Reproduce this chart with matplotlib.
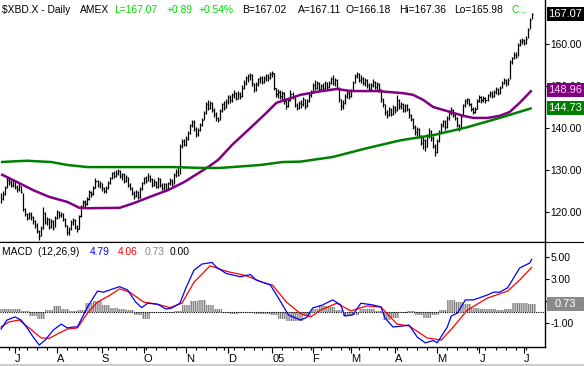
import numpy as np
import pandas as pd
import matplotlib
matplotlib.use('Agg')
import matplotlib.pyplot as plt
from matplotlib.patches import Rectangle

plt.rcParams['font.family'] = ['Liberation Sans', 'DejaVu Sans']
plt.rcParams['hatch.linewidth'] = 0.9

# trading days shown (Jun 22 2004 .. Jul 8 2005)
holidays = ['2004-07-05', '2004-09-06', '2004-11-25', '2004-12-24', '2005-01-17',
            '2005-02-21', '2005-03-25', '2005-05-30', '2005-07-04']

# daily bars
closes = [
    123.0, 124.2, 125.8, 127.6, 127.2, 126.4, 127.3, 126.0, 125.4, 126.2,
    124.8, 120.8, 119.6, 118.6, 119.5, 118.8, 117.8, 117.0, 115.5, 114.2,
    116.2, 119.8, 117.6, 118.3, 116.5, 117.8, 116.2, 118.6, 120.0, 119.2,
    119.6, 118.4, 116.8, 115.2, 116.0, 117.6, 118.2, 116.5, 116.0, 119.0,
    121.2, 122.4, 121.8, 123.0, 124.8, 124.2, 125.8, 127.4, 126.4, 126.8,
    125.6, 124.9, 125.8, 126.9, 128.0, 129.2, 128.6, 129.4, 129.8, 128.5,
    129.0, 127.4, 128.3, 126.5, 125.8, 124.6, 123.8, 124.8, 123.6, 125.5,
    126.8, 128.0, 127.4, 128.6, 127.8, 126.5, 127.2, 126.0, 127.8, 126.5,
    125.6, 126.6, 125.5, 126.8, 127.4, 126.6, 128.8, 129.6, 128.9, 135.8,
    136.8, 136.2, 137.5, 138.8, 140.6, 141.5, 139.8, 138.6, 139.6, 140.8,
    142.0, 143.5, 145.8, 144.8, 146.0, 144.3, 143.4, 142.3, 141.8, 144.0,
    145.6, 144.8, 146.2, 147.4, 146.6, 147.8, 148.4, 147.0, 148.2, 147.6,
    149.6, 150.8, 151.8, 152.3, 152.6, 150.6, 149.2, 150.4, 151.6, 152.0,
    150.9, 151.8, 152.4, 151.8, 152.8, 153.0, 149.5, 148.0, 148.6, 147.6,
    148.4, 146.4, 145.2, 146.6, 148.2, 147.4, 145.5, 144.8, 146.0, 145.6,
    146.8, 145.2, 146.4, 147.8, 148.4, 150.2, 149.6, 150.8, 149.4, 150.0,
    149.6, 150.6, 149.8, 150.8, 151.6, 150.8, 151.4, 149.6, 146.8, 145.2,
    146.0, 147.6, 148.4, 147.6, 148.8, 150.8, 152.4, 152.8, 151.4, 152.0,
    150.6, 151.4, 150.2, 149.4, 150.2, 151.0, 149.8, 150.4, 149.2, 146.8,
    145.6, 143.8, 143.2, 144.6, 143.4, 145.0, 144.2, 146.6, 145.2, 145.8,
    144.2, 145.4, 144.6, 143.0, 142.2, 140.2, 139.0, 139.8, 138.2, 136.4,
    137.2, 135.4, 138.0, 139.4, 137.6, 135.8, 134.2, 136.8, 139.0, 140.6,
    141.6, 140.2, 142.4, 143.6, 144.4, 143.2, 142.4, 140.8, 139.8, 142.6,
    145.4, 146.4, 146.8, 145.8, 144.6, 143.8, 144.6, 146.4, 147.4, 146.6,
    147.2, 146.6, 147.8, 148.4, 147.6, 148.6, 149.2, 148.4, 149.6, 150.8,
    151.4, 150.6, 151.4, 155.6, 156.6, 157.4, 157.0, 159.8, 160.6, 161.0,
    160.2, 161.2, 163.4, 165.6, 167.07,
]
highs = [
    124.5, 125.0, 126.3, 128.5, 128.3, 127.6, 127.8, 127.5, 126.4, 126.8,
    126.3, 124.6, 121.0, 119.8, 120.0, 120.1, 119.0, 118.2, 117.3, 115.8,
    116.6, 121.2, 120.1, 118.8, 118.6, 118.3, 118.0, 119.0, 120.5, 120.3,
    120.0, 119.8, 118.6, 117.0, 116.4, 118.0, 118.6, 118.4, 117.0, 119.3,
    121.7, 122.8, 122.8, 123.5, 125.2, 125.0, 126.3, 128.0, 127.6, 127.3,
    127.0, 126.0, 126.2, 127.3, 128.4, 129.6, 129.8, 130.0, 130.3, 129.9,
    129.4, 129.2, 128.8, 128.4, 126.8, 126.0, 125.0, 125.2, 125.0, 126.0,
    127.2, 128.4, 128.5, 129.3, 128.9, 128.0, 127.8, 127.4, 128.3, 128.0,
    126.8, 127.0, 126.8, 127.2, 128.0, 127.8, 129.2, 130.2, 130.7, 136.3,
    137.3, 137.5, 138.0, 139.3, 141.0, 142.0, 141.8, 140.2, 140.0, 141.3,
    142.4, 144.0, 146.3, 146.7, 146.5, 146.2, 144.8, 143.8, 142.6, 144.5,
    146.0, 146.4, 146.8, 147.9, 147.8, 148.3, 149.0, 148.6, 148.8, 148.6,
    150.2, 151.5, 152.4, 152.8, 153.1, 152.8, 150.8, 150.9, 152.0, 152.5,
    152.3, 152.3, 152.9, 152.8, 153.3, 153.5, 153.0, 149.6, 149.3, 149.0,
    148.8, 148.6, 146.8, 147.2, 149.0, 148.6, 147.6, 145.9, 146.4, 146.6,
    147.4, 147.0, 146.9, 148.3, 149.0, 150.8, 151.4, 151.3, 151.0, 150.5,
    150.6, 151.2, 151.0, 151.2, 152.1, 152.6, 151.9, 151.6, 149.7, 147.0,
    146.6, 148.0, 149.0, 148.8, 149.4, 151.3, 152.9, 153.3, 153.0, 152.6,
    152.2, 151.8, 151.6, 150.6, 150.7, 151.6, 151.2, 150.9, 150.6, 149.4,
    147.2, 145.8, 144.2, 145.0, 144.8, 145.5, 145.3, 147.9, 146.8, 146.2,
    146.0, 145.8, 145.6, 144.8, 143.4, 142.3, 140.6, 140.3, 140.0, 138.4,
    137.8, 137.4, 138.5, 140.0, 139.6, 138.0, 136.2, 137.4, 139.5, 141.2,
    142.0, 141.8, 142.8, 144.2, 145.0, 144.6, 143.6, 142.6, 141.0, 143.0,
    145.8, 146.9, 147.2, 147.0, 146.0, 144.9, 145.1, 146.8, 147.9, 147.6,
    147.6, 147.5, 148.2, 148.9, 148.8, 149.0, 149.8, 149.5, 150.0, 151.2,
    152.0, 151.6, 151.9, 156.2, 157.0, 158.0, 158.1, 160.3, 161.2, 161.5,
    161.3, 161.8, 163.9, 166.3, 167.36,
]
lows = [
    122.2, 122.8, 124.0, 125.6, 126.5, 126.0, 125.9, 125.5, 124.8, 124.9,
    124.5, 120.3, 119.0, 118.0, 118.3, 118.1, 117.2, 116.3, 115.0, 113.4,
    114.2, 116.0, 117.1, 116.8, 116.0, 116.3, 115.7, 116.4, 118.4, 118.6,
    118.7, 117.9, 116.5, 114.6, 114.5, 115.7, 116.8, 116.0, 115.2, 116.0,
    118.9, 121.0, 121.2, 121.6, 122.8, 123.5, 124.0, 125.6, 125.9, 125.6,
    125.0, 124.5, 124.6, 125.5, 126.6, 127.8, 128.1, 128.3, 128.9, 128.0,
    127.6, 127.0, 127.1, 126.0, 125.2, 124.0, 123.2, 123.5, 123.0, 123.4,
    125.3, 126.6, 126.8, 127.3, 127.2, 126.0, 126.1, 125.6, 125.8, 126.0,
    125.2, 125.3, 125.0, 125.3, 126.4, 126.2, 126.6, 128.3, 128.5, 129.0,
    135.3, 135.6, 135.8, 137.2, 138.6, 140.2, 139.2, 137.9, 138.2, 139.4,
    140.5, 141.8, 143.4, 144.2, 144.6, 143.8, 142.6, 141.6, 141.4, 141.8,
    143.8, 144.2, 144.7, 145.8, 146.0, 146.3, 147.2, 146.6, 146.8, 147.0,
    147.4, 149.4, 150.3, 151.0, 151.5, 150.0, 148.6, 148.9, 150.1, 150.8,
    150.4, 150.7, 151.3, 151.2, 151.6, 152.1, 149.0, 147.4, 147.1, 147.0,
    146.6, 145.8, 144.6, 145.0, 146.4, 146.8, 145.0, 144.3, 144.5, 144.8,
    145.2, 144.6, 144.9, 146.2, 147.5, 148.3, 149.0, 149.2, 148.8, 148.9,
    148.9, 149.2, 149.3, 149.5, 150.4, 150.2, 150.1, 149.2, 146.2, 144.3,
    144.6, 145.8, 147.2, 147.0, 147.4, 148.8, 150.6, 151.8, 150.9, 150.8,
    150.2, 150.1, 149.6, 148.9, 148.8, 149.8, 149.3, 149.1, 148.6, 146.2,
    145.0, 143.2, 142.4, 142.8, 142.9, 143.2, 143.6, 144.0, 144.6, 144.5,
    143.8, 143.9, 144.0, 142.4, 141.6, 139.8, 138.4, 138.2, 137.6, 135.9,
    135.0, 134.6, 135.4, 137.6, 137.0, 135.2, 133.4, 134.0, 136.6, 138.8,
    140.2, 139.6, 140.0, 142.0, 143.2, 142.6, 141.8, 140.2, 139.4, 140.0,
    142.8, 145.0, 145.6, 145.2, 144.1, 143.4, 143.5, 144.5, 146.1, 146.0,
    146.2, 146.0, 146.5, 147.3, 147.2, 147.4, 148.0, 147.8, 148.2, 149.5,
    150.4, 150.0, 150.3, 151.6, 155.2, 156.4, 156.6, 157.1, 159.6, 160.0,
    159.8, 160.1, 161.4, 163.6, 165.98,
]

# moving averages (bar index, value)
ma_short_bar = [0, 9, 16, 24, 33, 39, 43, 59, 66, 74, 83, 91, 99, 103, 108, 115, 124,
                132, 137, 144, 149, 157, 167, 174, 187, 200, 205, 210, 215, 220, 225,
                230, 235, 242, 248, 253, 258, 264]
ma_short_val = [129.0, 126.9, 125.2, 123.6, 122.4, 121.0, 120.9, 121.0, 122.1, 123.6,
                125.2, 127.1, 129.5, 130.7, 132.4, 136.0, 140.0, 143.6, 146.0, 147.1,
                147.9, 148.6, 149.3, 148.8, 148.8, 148.3, 147.9, 146.7, 145.0, 144.3,
                143.6, 142.9, 142.4, 142.4, 142.9, 143.8, 146.0, 148.96]
ma_long_bar = [0, 8, 13, 25, 33, 43, 86, 99, 109, 115, 129, 140, 149, 165, 182, 199,
               215, 232, 248, 264]
ma_long_val = [131.9, 132.1, 132.2, 131.9, 131.2, 130.7, 130.7, 130.5, 130.5, 130.7,
               131.2, 131.9, 132.0, 133.1, 135.2, 137.1, 138.3, 140.2, 142.4, 144.73]

# MACD (12,26,9)
macd_bar = [0, 3, 7, 10, 13, 16, 19, 22, 26, 30, 33, 36, 38, 43, 48, 51, 54, 59, 63, 67,
            70, 73, 78, 82, 85, 89, 92, 96, 100, 105, 107, 112, 119, 124, 127, 134, 138,
            143, 149, 152, 155, 160, 165, 169, 171, 175, 179, 185, 189, 191, 195, 200,
            203, 207, 211, 215, 217, 222, 224, 227, 231, 235, 242, 245, 248, 252, 258,
            263, 264]
macd_val = [-1.55, -0.73, -0.45, -0.73, -1.45, -2.27, -3.0, -2.55, -1.64, -1.1, -1.45,
            -1.36, -1.36, 0.45, 1.9, 1.8, 2.0, 2.3, 2.0, 0.9, 0.4, 0.8, 0.7, 0.27, 0.36,
            0.8, 2.2, 3.8, 4.36, 4.5, 4.1, 3.5, 3.2, 3.4, 2.9, 2.45, 1.27, -0.27, -0.73,
            -0.5, 0.36, 0.64, 1.1, 0.64, -0.36, -0.27, 0.8, 0.64, 0.45, -0.55, -1.36,
            -1.27, -1.18, -2.27, -2.8, -2.6, -2.8, -1.36, -0.36, -0.1, 1.1, 1.1, 1.55,
            1.8, 1.8, 2.2, 4.0, 4.45, 4.79]
signal_bar = [0, 4, 9, 14, 20, 24, 28, 33, 38, 43, 48, 54, 59, 64, 71, 78, 84, 90, 96,
              104, 112, 122, 130, 135, 142, 149, 154, 159, 167, 174, 182, 189, 197, 203,
              212, 219, 225, 232, 242, 252, 258, 264]
signal_val = [-1.36, -0.9, -0.73, -1.45, -2.36, -2.4, -2.0, -1.55, -1.45, -0.1, 0.9,
              1.5, 2.1, 1.8, 0.9, 0.7, 0.4, 0.8, 2.7, 4.2, 3.7, 3.3, 2.7, 2.45, 0.9,
              -0.15, -0.45, 0.18, 0.8, 0.1, 0.55, 0.45, -1.1, -1.27, -2.36, -2.55, -1.36,
              0.18, 1.27, 1.9, 2.9, 4.06]
hist_step = 4
hist_val = [0.3, 0.3, 0.3, 0.1, -0.4, -0.6, 0.2, 0.5, 0.3, 0.05, 0.2, 0.8, 1.0, 0.6,
            0.4, 0.3, 0.2, -0.3, -0.6, -0.1, -0.05, -0.05, 0.1, 0.6, 1.0, 1.1, 0.6, 0.3,
            -0.1, -0.2, -0.1, -0.1, -0.2, -0.15, -0.3, -0.6, -0.8, -0.8, -0.4, 0.3, 0.5,
            0.45, 0.2, -0.4, -0.3, 0.3, 0.3, 0.05, -0.7, -0.5, -0.05, 0.05, -0.3, -0.5,
            -0.3, 0.2, 1.1, 0.9, 0.7, 0.4, 0.3, 0.3, 0.2, 0.3, 0.8, 0.8, 0.73]

price_ticks = [120, 130, 140, 150, 160]
macd_ticks = [5, 3, 1, -1]

W, H = 584, 366
GREEN = '#00dd00'
PURPLE = '#800080'
DKGREEN = '#008000'
FS = 7.4

dates = pd.bdate_range('2004-06-22', '2005-07-08')
dates = dates[~dates.isin(pd.to_datetime(holidays))]
idx = np.arange(len(closes))


def px_rect(x0, y0, x1, y1):
    return [x0 / W, 1 - y1 / H, (x1 - x0) / W, (y1 - y0) / H]


fig = plt.figure(figsize=(W / 100, H / 100), dpi=100)
ax = fig.add_axes(px_rect(0, 0, 545, 242))
axm = fig.add_axes(px_rect(0, 242, 545, 347))

xlim = (-0.5, 270.6)

# --- price panel
ax.vlines(idx, lows, highs, color='black', lw=0.9)
ax.hlines(closes, idx, idx + 0.55, color='black', lw=0.9)
ax.plot(ma_short_bar, ma_short_val, color=PURPLE, lw=1.8, solid_capstyle='butt')
ax.plot(ma_long_bar, ma_long_val, color=DKGREEN, lw=1.8, solid_capstyle='butt')
ax.set_xlim(*xlim)
ax.set_ylim(112.86, 170.48)

# --- MACD panel
hist_bar = np.arange(len(hist_val)) * hist_step
axm.bar(hist_bar, hist_val, width=hist_step, facecolor='none', edgecolor='#808080',
        lw=0, hatch='|||||||||', zorder=1)
axm.axhline(0, color='black', lw=0.8, ls=(0, (1, 1)), zorder=2)
axm.plot(signal_bar, signal_val, color='#ff0000', lw=0.9, zorder=3)
axm.plot(macd_bar, macd_val, color='#0000ff', lw=0.9, zorder=4)
axm.set_xlim(*xlim)
axm.set_ylim(-3.18, 6.36)

for a in (ax, axm):
    a.spines['left'].set_visible(False)
    a.spines['top'].set_visible(False)
    a.spines['right'].set_linewidth(1.0)
    a.spines['bottom'].set_linewidth(1.0)
    a.yaxis.tick_right()
    a.tick_params(axis='y', direction='out', length=3, width=0.8, pad=1,
                  labelsize=FS, colors='black')

ax.set_yticks(price_ticks)
ax.set_yticklabels(['%.2f' % t for t in price_ticks])
ax.set_xticks([])
axm.set_yticks(macd_ticks)
axm.set_yticklabels(['%.2f' % t for t in macd_ticks])

# month ticks along the bottom
month_pos = [i for i in range(1, len(dates)) if dates[i].month != dates[i - 1].month]
month_lab = ['05' if dates[i].month == 1 else dates[i].strftime('%b')[0] for i in month_pos]
week_pos = [i for i in range(1, len(dates)) if dates[i].weekday() < dates[i - 1].weekday()]
axm.set_xticks(month_pos)
axm.set_xticklabels(month_lab, ha='left')
axm.set_xticks(week_pos, minor=True)
axm.tick_params(axis='x', which='major', direction='out', length=4, width=0.8,
                pad=1, labelsize=FS + 0.6)
axm.tick_params(axis='x', which='minor', direction='out', length=2, width=0.8)

fig.canvas.draw()


def y_px(a, v):
    return H - a.transData.transform((0, v))[1]


def value_box(a, v, txt, bg, fg='white'):
    yc = y_px(a, v)
    r = Rectangle((547 / W, 1 - (yc + 7) / H), 37 / W, 14 / H, transform=fig.transFigure,
                  facecolor=bg, edgecolor='none', zorder=5)
    fig.patches.append(r)
    fig.text(565 / W, 1 - yc / H, txt, color=fg, fontsize=FS + 0.6, ha='center',
             va='center', zorder=6)


value_box(ax, closes[-1], '%.2f' % closes[-1], 'black')
value_box(ax, ma_short_val[-1], '%.2f' % ma_short_val[-1], PURPLE, fg='#ffd0ff')
value_box(ax, ma_long_val[-1], '%.2f' % ma_long_val[-1], DKGREEN)
value_box(axm, hist_val[-1], '%.2f' % hist_val[-1], '#8a8a8a')

# header
hdr = [(2, '$XBD.X - Daily', 'black'), (80, 'AMEX', 'black'), (114, 'L=167.07', GREEN),
       (166, '+0.89', GREEN), (199, '+0.54%', GREEN), (242, 'B=167.02', 'black'),
       (298, 'A=167.11', 'black'), (345, 'O=166.18', 'black'), (399, 'Hi=167.36', 'black'),
       (454, 'Lo=165.98', 'black'), (511, 'C...', GREEN)]
for x, t, c in hdr:
    fig.text(x / W, 1 - 10 / H, t, color=c, fontsize=FS, va='center')

mh = [(2, 'MACD  (12,26,9)', 'black'), (90, '%.2f' % macd_val[-1], '#0000ff'),
      (118, '%.2f' % signal_val[-1], '#ff0000'), (145, '%.2f' % hist_val[-1], '#888888'),
      (170, '0.00', 'black')]
for x, t, c in mh:
    fig.text(x / W, 1 - 252 / H, t, color=c, fontsize=FS, va='center')

fig.add_artist(plt.Line2D([0, 1], [1 - 242 / H] * 2, color='black', lw=0.8))
fig.add_artist(plt.Line2D([0, 1], [1 - 364.5 / H] * 2, color='#cccccc', lw=1.5))

fig.savefig('out.png', dpi=100)
